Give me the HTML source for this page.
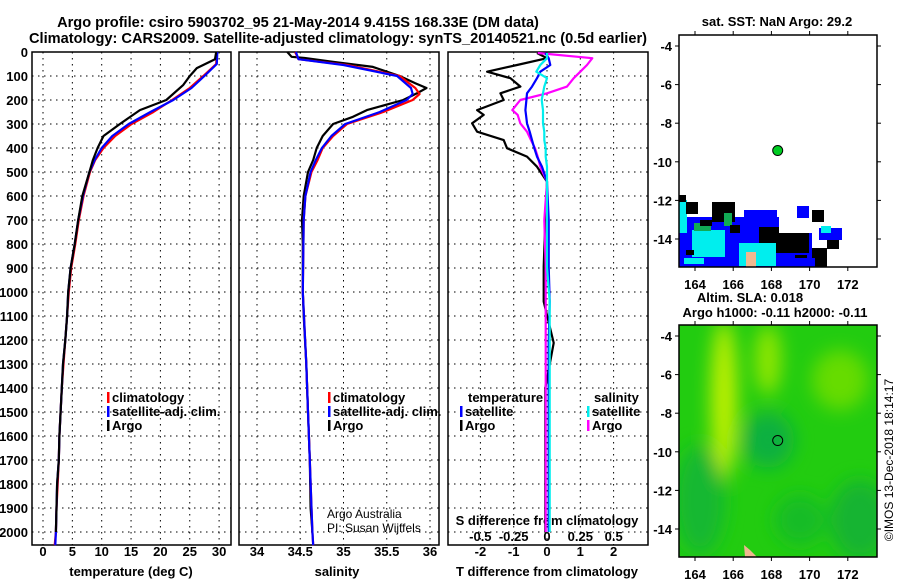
<!DOCTYPE html>
<html><head><meta charset="utf-8"><style>
html,body{margin:0;padding:0;background:#fff;}
svg{display:block;font-family:"Liberation Sans",sans-serif;}
.b{font-weight:bold;font-size:13px;}
.n{font-weight:normal;font-size:12px;}
.t{font-weight:bold;font-size:14.6px;}
</style></head><body>
<svg id="fig" width="900" height="580" viewBox="0 0 900 580">
<text class="t" x="298" y="27" text-anchor="middle">Argo profile: csiro 5903702_95 21-May-2014 9.415S 168.33E (DM data)</text>
<text class="t" x="338" y="43" text-anchor="middle">Climatology: CARS2009. Satellite-adjusted climatology: synTS_20140521.nc (0.5d earlier)</text>
<g id="g"></g>
</svg>
<script>
// ---- data ----
const depthTicks=[0,100,200,300,400,500,600,700,800,900,1000,1100,1200,1300,1400,1500,1600,1700,1800,1900,2000];
const tempTicks=[0,5,10,15,20,25,30];
const salTicks=[34,34.5,35,35.5,36];
const salTickLabels=['34','34.5','35','35.5','36'];
const tdTicks=[-2,-1,0,1,2];
const sdTicks=[-0.5,-0.25,0,0.25,0.5];
const sdTickLabels=['-0.5','-0.25','0','0.25','0.5'];
const lonTicks=[164,166,168,170,172];
const latTicks=[-4,-6,-8,-10,-12,-14];

const tArgoDepth=[0,30,67,100,137,200,242,300,350,400,450,500,600,700,800,900,1000,1100,1200,1300,1400,1500,1600,1700,1800,1900,2000];
const tArgo=[29.5,29.3,26.2,25.0,23.9,21.0,16.5,13.1,10.3,9.3,8.5,7.9,6.7,6.0,5.4,4.7,4.3,4.1,3.8,3.4,3.2,3.0,2.8,2.7,2.4,2.3,2.2];
const tClimDepth=[0,50,100,150,200,250,300,350,400,450,500,600,700,800,900,1000,1100,1200,1300,1400,1500,1600,1700,1800,1900,2000,2055];
const tClim=[29.6,29.5,27.3,25.0,22.0,18.8,15.1,12.3,10.3,8.9,8.0,6.9,6.1,5.5,4.8,4.4,4.1,3.8,3.5,3.2,3.0,2.8,2.7,2.5,2.3,2.2,2.0];
const tSat=[29.7,29.6,27.5,25.3,22.2,18.3,14.6,11.8,10.0,8.8,7.9,6.8,6.0,5.4,4.7,4.3,4.1,3.8,3.4,3.2,3.0,2.8,2.7,2.4,2.3,2.2,2.1];

const sArgoDepth=[0,20,25,41,62,100,130,150,172,200,242,270,300,350,400,450,500,600,700,800,1000,1100,1300,1500,1700,1900,2000];
const sArgo=[34.35,34.40,34.55,34.88,35.34,35.65,35.83,35.96,35.85,35.69,35.27,35.11,34.88,34.76,34.69,34.65,34.59,34.54,34.52,34.53,34.53,34.54,34.57,34.59,34.61,34.62,34.64];
const sClimDepth=[0,30,54,100,150,175,200,250,300,350,400,450,500,600,700,1000,1300,1500,1700,1900,2000,2055];
const sClim=[34.44,34.48,35.04,35.65,35.83,35.88,35.80,35.46,35.04,34.88,34.76,34.70,34.63,34.56,34.54,34.53,34.57,34.59,34.61,34.63,34.64,34.65];
const sSat=[34.45,34.48,35.00,35.62,35.78,35.80,35.73,35.42,35.02,34.86,34.75,34.68,34.62,34.56,34.54,34.53,34.57,34.59,34.61,34.63,34.64,34.65];

const dDepth=[4,26,54,82,109,144,172,200,242,262,297,332,367,401,436,478,540,700,895,1040,1212,1400,1600,1800,2000];
const tdArgo=[-0.3,0.0,-0.9,-1.8,-1.1,-0.8,-1.4,-1.3,-2.1,-1.9,-2.25,-2.1,-1.3,-1.2,-0.6,-0.3,0.0,-0.05,-0.1,-0.1,0.2,-0.05,-0.05,-0.05,-0.05];
const tdSat=[-0.05,0.05,0.1,-0.2,-0.3,-0.45,-0.6,-0.62,-0.65,-0.63,-0.6,-0.52,-0.45,-0.38,-0.3,-0.15,0.0,0.05,0.05,0.08,0.05,0.05,0.05,0.05,0.05];
const sdArgo=[-0.07,0.34,0.3,0.25,0.2,0.15,0.0,-0.2,-0.26,-0.22,-0.2,-0.15,-0.12,-0.09,-0.07,-0.05,0.0,-0.02,-0.01,-0.01,-0.01,-0.01,-0.01,-0.01,-0.01];
const sdSat=[0.0,0.0,-0.05,-0.08,0.0,-0.02,-0.03,-0.04,-0.03,-0.03,-0.03,-0.02,-0.02,-0.01,-0.01,0.0,0.0,0.0,0.0,0.02,0.02,0.02,0.02,0.02,0.02];

const argoLon=168.33, argoLat=-9.415;

// ---- scales ----
const Y=d=>52+d*0.24;
const XT=t=>43+t*5.87;
const XS=s=>257+(s-34)*86.5;
const XTD=d=>547+d*33.3;
const XSD=d=>547+d*133.3;
const MLON=l=>695+(l-164)*19.1;
const M1LAT=l=>46+(-4-l)*19.3;
const M2LAT=l=>336+(-4-l)*19.3;

const NS='http://www.w3.org/2000/svg';
const G=document.getElementById('g');
function el(tag,attrs,parent){const e=document.createElementNS(NS,tag);for(const k in attrs)e.setAttribute(k,attrs[k]);(parent||G).appendChild(e);return e;}
function txt(s,x,y,cls,anchor,parent){const e=el('text',{x:x,y:y,'class':cls||'b','text-anchor':anchor||'middle'},parent);e.textContent=s;return e;}

// panels
const panels=[[32,231],[239,439],[448,648]];
panels.forEach((p,i)=>{
  const r=el('rect',{x:p[0],y:52,width:p[1]-p[0],height:493,fill:'none',stroke:'#000','stroke-width':1.5});
  
  
  depthTicks.forEach(d=>{
    const l=el('line',{x1:p[0],x2:p[1],y1:Y(d),y2:Y(d),stroke:'#000','stroke-dasharray':'1.5,4.5','stroke-width':1});
    
    
  });
});
depthTicks.forEach(d=>{
  const t=txt(String(d),28,Y(d)+5,'b','end');
  
  
});
function vgrid(xs,labels,x0,y) {
  xs.forEach((v,i)=>{
    const l=el('line',{x1:v,x2:v,y1:52,y2:545,stroke:'#000','stroke-dasharray':'1.5,4.5','stroke-width':1});
    
    
    if(labels){const t=txt(labels[i],v,y,'b');
      
      }
  });
}
vgrid(tempTicks.map(XT),tempTicks.map(String),0,556);
vgrid(salTicks.map(XS),salTickLabels,0,556);
vgrid(tdTicks.map(XTD),tdTicks.map(String),0,556);
sdTicks.forEach((v,i)=>{const t=txt(sdTickLabels[i],XSD(v),541,'b');
  
  });

let a;
a=txt('temperature (deg C)',131,576);
a=txt('salinity',337,576);
a=txt('T difference from climatology',547,576);
a=txt('S difference from climatology',547,525);

function line(xs,ds,xf,color,name){
  const pts=xs.map((v,i)=>xf(v).toFixed(1)+','+Y(ds[i]).toFixed(1)).join(' ');
  const p=el('polyline',{points:pts,fill:'none',stroke:color,'stroke-width':2.2,'stroke-linejoin':'round'});
  
  
}
line(tClim,tClimDepth,XT,'#ff0000','temp-climatology-line');
line(tSat,tClimDepth,XT,'#0000ff','temp-satellite-line');
line(tArgo,tArgoDepth,XT,'#000000','temp-argo-line');
line(sArgo,sArgoDepth,XS,'#000000','sal-argo-line');
line(sClim,sClimDepth,XS,'#ff0000','sal-climatology-line');
line(sSat,sClimDepth,XS,'#0000ff','sal-satellite-line');
line(tdArgo,dDepth,XTD,'#000000','tdiff-argo-line');
line(sdArgo,dDepth,XSD,'#ff00ff','sdiff-argo-line');
line(tdSat,dDepth,XTD,'#0000ff','tdiff-satellite-line');
line(sdSat,dDepth,XSD,'#00eeee','sdiff-satellite-line');

function legend(x,y,color,label){
  const m=el('rect',{x:x,y:y-10,width:2.5,height:11,fill:color});
  
  
  const t=txt(label,x+5,y,'b','start');
  
  
}
legend(107,402,'#ff0000','climatology');legend(107,416,'#0000ff','satellite-adj. clim.');legend(107,430,'#000','Argo');
legend(328,402,'#ff0000','climatology');legend(328,416,'#0000ff','satellite-adj. clim.');legend(328,430,'#000','Argo');
a=txt('temperature',468,402,'b','start');
a=txt('salinity',594,402,'b','start');
legend(460,416,'#0000ff','satellite');legend(460,430,'#000','Argo');
legend(587,416,'#00eeee','satellite');legend(587,430,'#ff00ff','Argo');
a=txt('Argo Australia',327,518,'n','start');
a=txt('PI: Susan Wijffels',327,532,'n','start');

// ---- maps ----
const defs=el('defs',{});
const f=el('filter',{id:'blur',x:'-50%',y:'-50%',width:'200%',height:'200%'},defs);
el('feGaussianBlur',{stdDeviation:9},f);
const cp=el('clipPath',{id:'m2c'},defs);el('rect',{x:679,y:325,width:198,height:232},cp);
const cp1=el('clipPath',{id:'m1c'},defs);el('rect',{x:679,y:35,width:198,height:232},cp1);

const m1=el('g',{'clip-path':'url(#m1c)'});


const patches=[['#0000ff',679,217,100,53],['#00eeee',679,200,8,33],['#000',679,195,7,7],['#000',686,202,12,12],['#000',712,202,23,20],['#0000ff',744,210,33,20],['#0000ff',797,206,12,12],['#000',812,210,12,12],['#000',759,227,20,20],['#0000ff',779,233,33,34],['#000',772,233,37,20],['#00eeee',739,243,37,23],['#00eeee',692,230,33,27],['#000',812,248,15,19],['#000',827,237,12,12],['#0000ff',819,228,23,12],['#00eeee',821,226,10,7],['#11aa55',694,223,17,8],['#11aa55',724,213,8,13],['#000',700,220,12,6],['#000',730,225,10,8],['#00eeee',697,245,10,8],['#000',686,250,8,5],['#00eeee',684,258,20,6],['#000',795,255,12,8],['#0000ff',785,258,30,9],['#f0b890',746,252,10,15]];
patches.forEach(p=>{el('rect',{x:p[1],y:p[2],width:p[3],height:p[4],fill:p[0]},m1);});

const m2=el('g',{'clip-path':'url(#m2c)'});


el('rect',{x:679,y:325,width:198,height:232,fill:'#22cc10'},m2);
const bl=el('g',{filter:'url(#blur)'},m2);
el('ellipse',{cx:724,cy:400,rx:13,ry:80,fill:'#c0f000'},bl);
el('ellipse',{cx:768,cy:360,rx:13,ry:35,fill:'#90e600'},bl);
el('ellipse',{cx:840,cy:380,rx:28,ry:30,fill:'#66dc00'},bl);
el('ellipse',{cx:768,cy:440,rx:26,ry:28,fill:'#10b040'},bl);
el('ellipse',{cx:860,cy:520,rx:30,ry:40,fill:'#12b432'},bl);
el('ellipse',{cx:700,cy:500,rx:25,ry:55,fill:'#14b830'},bl);
el('ellipse',{cx:800,cy:520,rx:25,ry:25,fill:'#18bc28'},bl);
el('polygon',{points:'745,557 744,545 750,550 757,557',fill:'#f0b890'},m2);

[[35,M1LAT,'map1'],[325,M2LAT,'map2']].forEach(([y0,LAT,nm])=>{
  const r=el('rect',{x:679,y:y0,width:198,height:232,fill:'none',stroke:'#000','stroke-width':1.5});
  
  
  lonTicks.forEach(l=>{
    const x=MLON(l);
    el('line',{x1:x,x2:x,y1:y0,y2:y0-4,stroke:'#000'});
    el('line',{x1:x,x2:x,y1:y0+232,y2:y0+236,stroke:'#000'});
    const t=txt(String(l),x,y0+254,'b');
    
    
  });
  latTicks.forEach(l=>{
    const y=LAT(l);
    el('line',{x1:679,x2:675,y1:y,y2:y,stroke:'#000'});
    el('line',{x1:877,x2:881,y1:y,y2:y,stroke:'#000'});
    const t=txt(String(l),672,y+5,'b','end');
    
    
  });
});
a=el('circle',{cx:MLON(argoLon),cy:M1LAT(argoLat),r:5,fill:'#00cc22',stroke:'#000'});

a=el('circle',{cx:MLON(argoLon),cy:M2LAT(argoLat),r:5,fill:'none',stroke:'#000'});

a=txt('sat. SST: NaN Argo: 29.2',777,26,'b');
a=txt('Altim. SLA: 0.018',750,302,'b');
a=txt('Argo h1000: -0.11 h2000: -0.11',775,317,'b');
a=txt('©IMOS 13-Dec-2018 18:14:17',0,0,'n','middle');
a.setAttribute('transform','translate(893,460) rotate(-90)');

</script>
</body></html>
